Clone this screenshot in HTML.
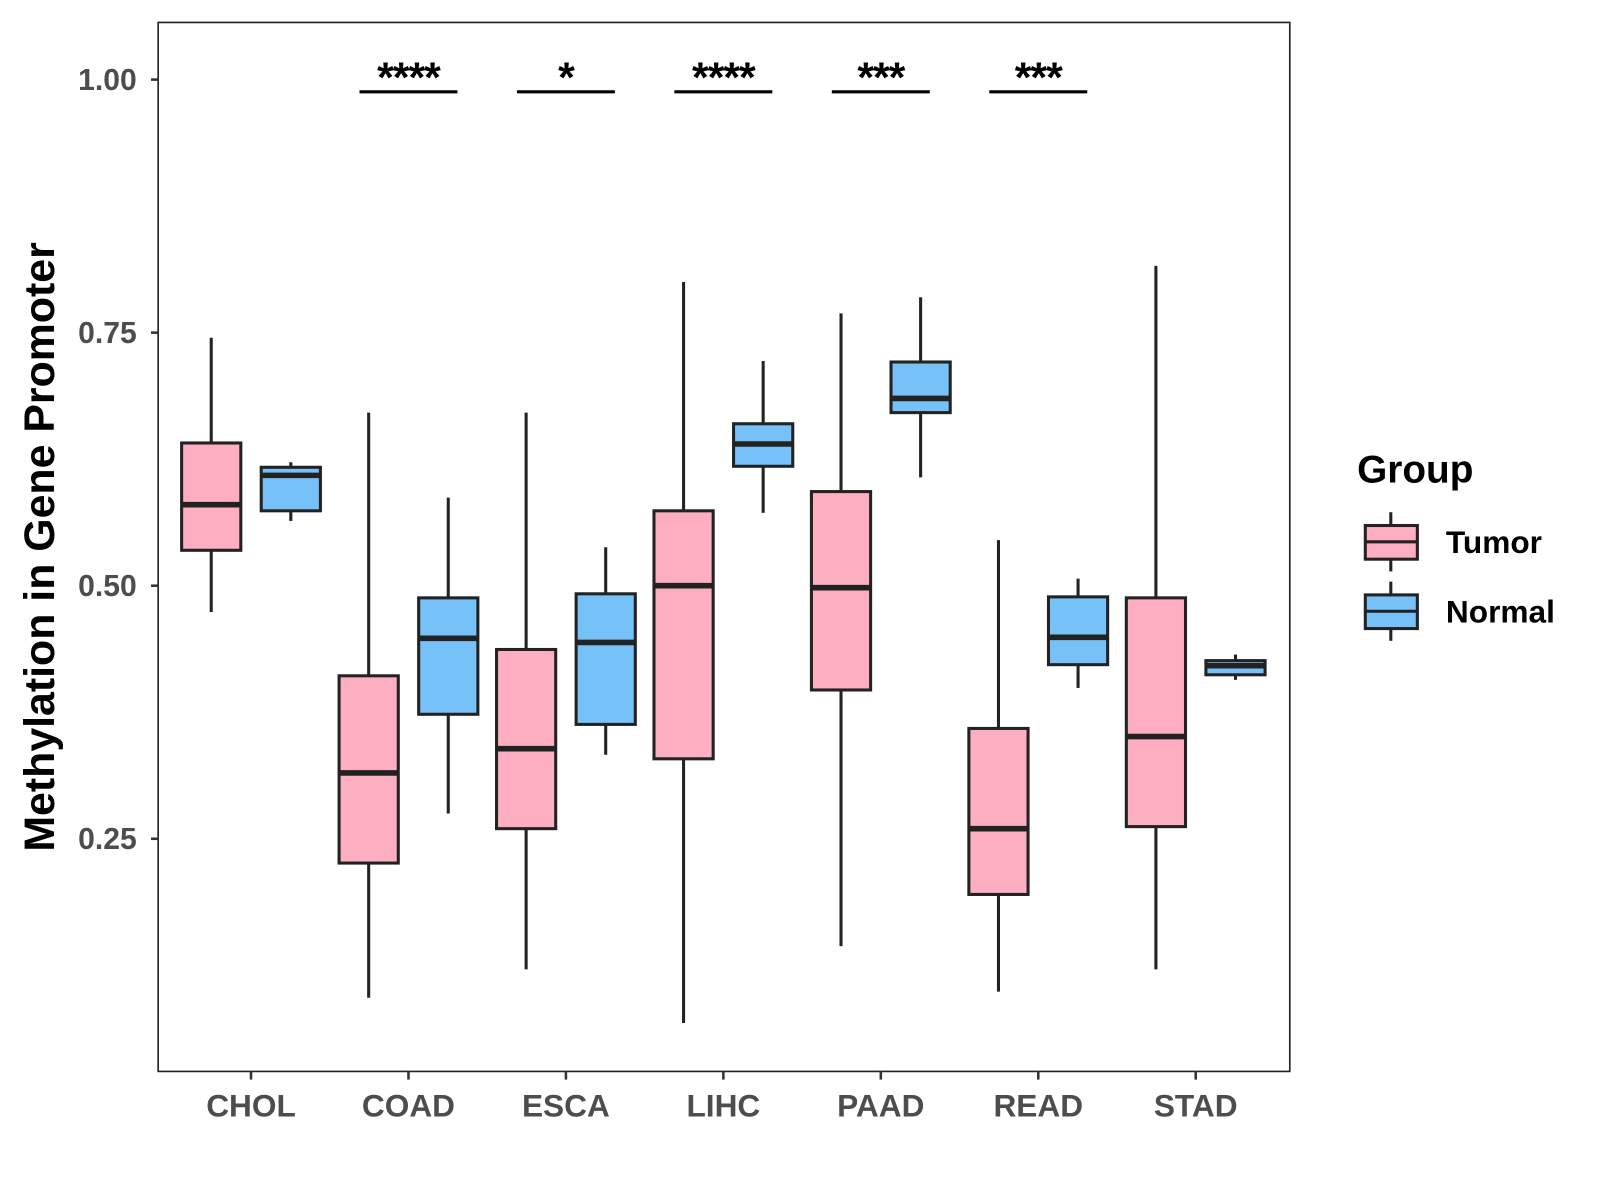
<!DOCTYPE html>
<html><head><meta charset="utf-8"><style>
html,body{margin:0;padding:0;background:#fff;}
svg{display:block;}
text{font-family:"Liberation Sans",Arial,sans-serif;font-weight:bold;}
</style></head><body>
<svg id="chart" width="1600" height="1200" viewBox="0 0 1568 1176" xmlns="http://www.w3.org/2000/svg">
<rect x="0" y="0" width="1568" height="1176" fill="#fff"/>
<g id="plot"></g>
</svg>
<script>
const categories = ["CHOL","COAD","ESCA","LIHC","PAAD","READ","STAD"];
const tumorStats = [ // [lo, q1, median, q3, hi]
  [0.474,0.535,0.580,0.641,0.745],
  [0.093,0.226,0.315,0.411,0.671],
  [0.121,0.260,0.339,0.437,0.671],
  [0.068,0.329,0.500,0.574,0.800],
  [0.144,0.397,0.498,0.593,0.769],
  [0.099,0.195,0.260,0.359,0.545],
  [0.121,0.262,0.351,0.488,0.816]
];
const normalStats = [
  [0.564,0.574,0.609,0.617,0.622],
  [0.275,0.373,0.448,0.488,0.587],
  [0.333,0.363,0.444,0.492,0.538],
  [0.572,0.618,0.640,0.660,0.722],
  [0.607,0.671,0.685,0.721,0.785],
  [0.399,0.422,0.449,0.489,0.507],
  [0.407,0.412,0.421,0.426,0.432]
];
const signifLabels = ["","****","*","****","***","***",""];
const yTicks = [0.25,0.50,0.75,1.00];
const yTickLabels = ["0.25","0.50","0.75","1.00"];

const NS="http://www.w3.org/2000/svg";
const g=document.getElementById('plot');
const PL=155,PT=22,PR=1264,PB=1050;
function y(v){return 78+(1-v)*992;}
function x(i){return 246+i*154.3;}
function mk(tag,attrs,parent){const e=document.createElementNS(NS,tag);for(const k in attrs)e.setAttribute(k,attrs[k]);(parent||g).appendChild(e);return e;}

const panel=mk('rect',{x:PL,y:PT,width:PR-PL,height:PB-PT,fill:'#fff',stroke:'#222','stroke-width':1.6});



yTicks.forEach((v,i)=>{
  const t=mk('line',{x1:PL-7,x2:PL,y1:y(v),y2:y(v),stroke:'#333','stroke-width':2.5});
  
  
  const l=mk('text',{x:PL-21,y:y(v)+10,'text-anchor':'end','font-size':29.5,fill:'#4d4d4d'});
  l.textContent=yTickLabels[i];
  
  
});
categories.forEach((c,i)=>{
  const t=mk('line',{x1:x(i),x2:x(i),y1:PB,y2:PB+8,stroke:'#333','stroke-width':2.5});
  
  
  const l=mk('text',{x:x(i),y:1094,'text-anchor':'middle','font-size':31,fill:'#4d4d4d'});
  l.textContent=c;
  
  
});

function drawBox(s,cx,fill,name){
  const w=58;
  const grp=mk('g',{});
  
  
  mk('line',{x1:cx,x2:cx,y1:y(s[4]),y2:y(s[3]),stroke:'#222','stroke-width':3},grp);
  mk('line',{x1:cx,x2:cx,y1:y(s[1]),y2:y(s[0]),stroke:'#222','stroke-width':3},grp);
  mk('rect',{x:cx-w/2,y:y(s[3]),width:w,height:y(s[1])-y(s[3]),fill:fill,stroke:'#222','stroke-width':3},grp);
  mk('line',{x1:cx-w/2,x2:cx+w/2,y1:y(s[2]),y2:y(s[2]),stroke:'#222','stroke-width':5.5},grp);
}
categories.forEach((c,i)=>{
  drawBox(tumorStats[i],x(i)-39,'#FDAFC1','box-tumor-'+c.toLowerCase());
  drawBox(normalStats[i],x(i)+39,'#76C2F8','box-normal-'+c.toLowerCase());
  if(signifLabels[i]){
    const b=mk('line',{x1:x(i)-48,x2:x(i)+48,y1:90,y2:90,stroke:'#000','stroke-width':3});
    
    
    const t=mk('text',{x:x(i),y:90,'text-anchor':'middle','font-size':42,'letter-spacing':'-1',fill:'#000'});
    t.textContent=signifLabels[i];
    
    
  }
});

const yt=mk('text',{x:0,y:0,transform:'translate(53,536) rotate(-90)','text-anchor':'middle','font-size':42,fill:'#000'});
yt.textContent='Methylation in Gene Promoter';



const lt=mk('text',{x:1330,y:473,'font-size':38,fill:'#000'});
lt.textContent='Group';


[['Tumor','#FDAFC1',531],['Normal','#76C2F8',599]].forEach(([n,f,cy])=>{
  const e=mk('g',{});
  
  
  mk('line',{x1:1363,x2:1363,y1:cy-29,y2:cy+29,stroke:'#222','stroke-width':3},e);
  mk('rect',{x:1338,y:cy-16,width:51,height:33,fill:f,stroke:'#222','stroke-width':3},e);
  mk('line',{x1:1338,x2:1389,y1:cy,y2:cy,stroke:'#222','stroke-width':3},e);
  const t=mk('text',{x:1417,y:cy+11,'font-size':31,fill:'#000'},e);
  t.textContent=n;
});
</script>
</body></html>
